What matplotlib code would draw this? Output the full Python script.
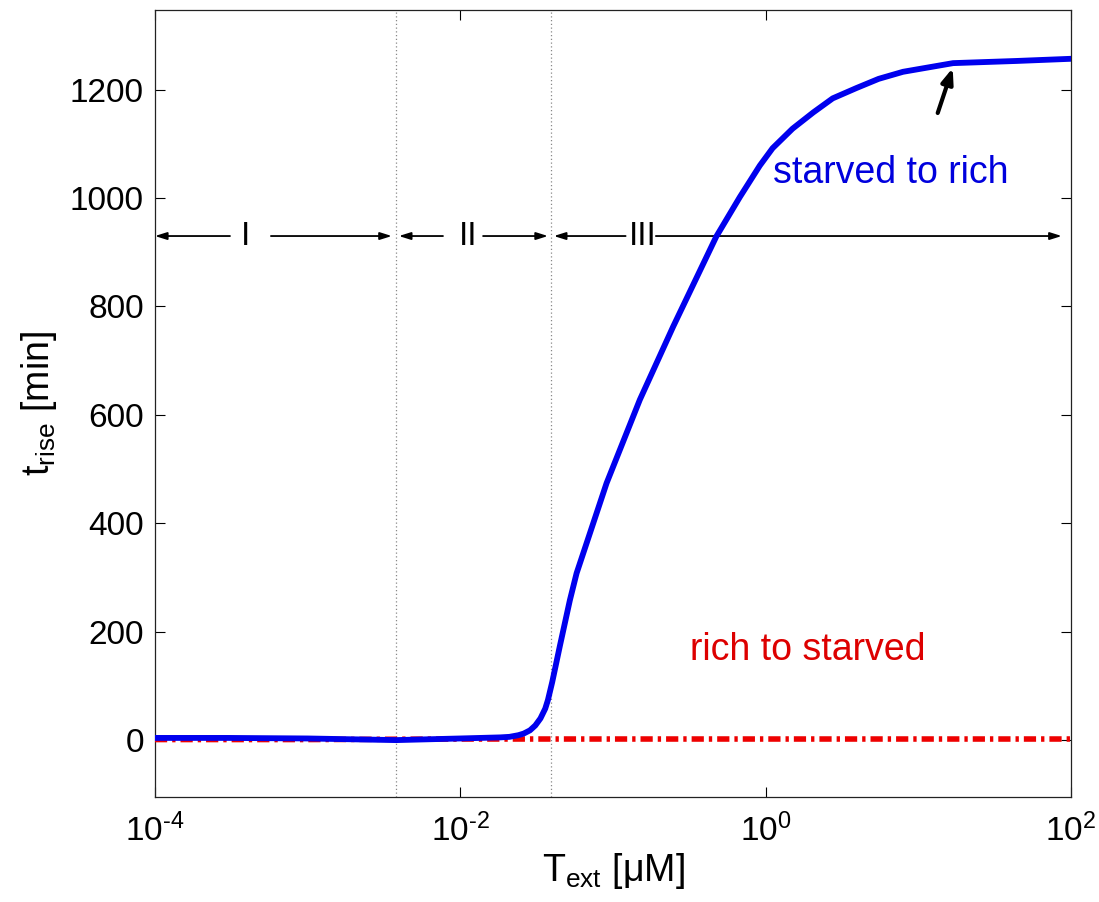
import numpy as np
import matplotlib
matplotlib.use("Agg")
import matplotlib.pyplot as plt
from matplotlib.ticker import FuncFormatter

plt.rcParams['font.family'] = ['Liberation Sans', 'DejaVu Sans']
plt.rcParams['mathtext.fontset'] = 'custom'
plt.rcParams['mathtext.rm'] = 'Liberation Sans'
plt.rcParams['mathtext.it'] = 'Liberation Sans:italic'
plt.rcParams['mathtext.default'] = 'regular'

# --- data ---
t_ext_blue = [1e-4, 3e-4, 1e-3, 0.0038, 0.01, 0.0183, 0.021, 0.024, 0.026, 0.0286,
              0.031, 0.0335, 0.036, 0.0375, 0.040, 0.045, 0.0522, 0.0578, 0.0908,
              0.150, 0.248, 0.475, 0.678, 0.916, 1.11, 1.5, 2.05, 2.75, 3.93, 5.5,
              7.94, 16.9, 44, 100]
t_rise_starved_to_rich = [4, 4, 3, 0, 3, 5, 6, 9, 12, 18,
                          27, 40, 58, 74, 107, 175, 258, 308, 474,
                          628, 763, 929, 1002, 1060, 1092, 1128, 1158, 1184, 1203, 1220,
                          1233, 1249, 1253, 1257]
t_ext_red = [1e-4, 1e-3, 1e-2, 1e-1, 1e0, 1e1, 1e2]
t_rise_rich_to_starved = [1, 1, 2, 2, 2, 2, 2]

region_bounds = [0.0038, 0.039]
region_labels = ['I', 'II', 'III']
region_label_x = [3.9e-4, 0.0112, 0.157]
# arrow segments: (tail x, head x) at y = arrow_y
arrow_segments = [(3.1e-4, 1e-4), (5.75e-4, 3.56e-3),
                  (7.7e-3, 3.96e-3), (0.0141, 0.0375),
                  (0.121, 0.041), (0.191, 87)]
arrow_y = 930

fig = plt.figure(figsize=(10.99, 9.02), dpi=100)
ax = fig.add_axes([0.141, 0.1164, 0.8335, 0.8725])

ax.plot(t_ext_red, t_rise_rich_to_starved, color='#ee0000', lw=4.0,
        linestyle=(0, (2.2, 0.9, 0.6, 0.9)), zorder=3)
ax.plot(t_ext_blue, t_rise_starved_to_rich, color='#0000ee', lw=4.2,
        solid_capstyle='round', solid_joinstyle='round', zorder=4)

for xb in region_bounds:
    ax.axvline(xb, color='#888888', lw=0.9, linestyle=(0, (1, 2)), zorder=1)

for tail, head in arrow_segments:
    ax.annotate('', xy=(head, arrow_y), xytext=(tail, arrow_y),
                arrowprops=dict(arrowstyle='-|>,head_length=0.7,head_width=0.22',
                                color='black', lw=1.3, shrinkA=0, shrinkB=0))
for lx, lab in zip(region_label_x, region_labels):
    ax.text(lx, arrow_y, lab, fontsize=24, ha='center', va='center', color='black')

ax.text(1.11, 1028, 'starved to rich', fontsize=27, color='#0000dd', ha='left', va='baseline')
ax.text(0.319, 148, 'rich to starved', fontsize=27, color='#dd0000', ha='left', va='baseline')

ax.annotate('', xy=(16.8, 1240), xytext=(13.4, 1157),
            arrowprops=dict(arrowstyle='-|>,head_length=0.9,head_width=0.35',
                            color='black', lw=3, shrinkA=0, shrinkB=0))

ax.set_xscale('log')
ax.set_xlim(1e-4, 1e2)
ax.set_ylim(-105, 1347)
ax.set_xticks([1e-4, 1e-2, 1e0, 1e2])
ax.set_yticks([0, 200, 400, 600, 800, 1000, 1200])
ax.minorticks_off()


def fmt_log(v, pos):
    e = int(round(np.log10(v)))
    s = str(e).replace('-', r'\text{-}')
    return r'$10^{' + s + '}$'


ax.xaxis.set_major_formatter(FuncFormatter(fmt_log))
ax.tick_params(direction='in', length=7, width=0.8, labelsize=24, pad=8,
               top=True, right=True)
ax.tick_params(axis='x', pad=12)
for s in ax.spines.values():
    s.set_linewidth(0.9)
    s.set_color('#222222')

ax.set_xlabel('T$_{\\mathrm{ext}}$ [μM]', fontsize=27, labelpad=2)
ax.set_ylabel('t$_{\\mathrm{rise}}$ [min]', fontsize=27, labelpad=8)

fig.savefig('out.png', dpi=100)
